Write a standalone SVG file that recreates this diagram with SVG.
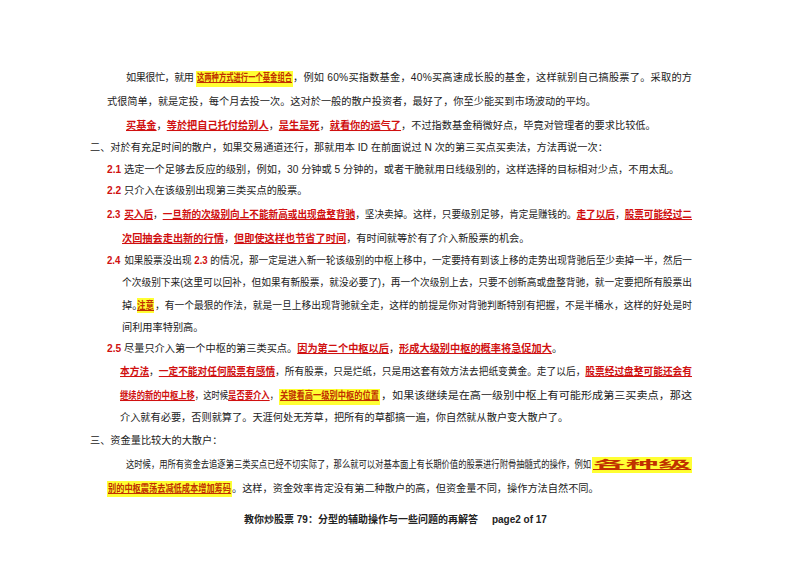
<svg xmlns="http://www.w3.org/2000/svg" width="800" height="566" viewBox="0 0 800 566">
<style>
text{font-family:"Liberation Sans","Noto Sans CJK SC",sans-serif;font-size:10.2px;fill:#222}
.r{fill:#d01010;font-weight:bold;text-decoration:underline}
.o{fill:#c03000;font-weight:bold;text-decoration:underline}
.n{fill:#d01010;font-weight:bold}
.h{fill:#ffff33}
</style>
<rect width="800" height="566" fill="#fff"/>
<rect class="h" x="196" y="71" width="97" height="16"/>
<rect class="h" x="137" y="298" width="17" height="15"/>
<rect class="h" x="279" y="389" width="101" height="16"/>
<rect class="h" x="592" y="457" width="100" height="16"/>
<rect class="h" x="107" y="481" width="125" height="16"/>
<g id="p1">
<text x="126" y="81" textLength="68" lengthAdjust="spacing">如果很忙，就用</text>
<text x="197" y="81" textLength="95" lengthAdjust="spacingAndGlyphs" class="o">这两种方式进行一个基金组合</text>
<text x="293" y="81" textLength="399" lengthAdjust="spacing">，例如 60%买指数基金，40%买高速成长股的基金，这样就别自己搞股票了。采取的方</text>
<text x="107" y="105">式很简单，就是定投，每个月去投一次。这对於一般的散户投资者，最好了，你至少能买到市场波动的平均。</text>
<text x="126" y="129"><tspan class="r">买基金</tspan>，<tspan class="r">等於把自己托付给别人</tspan>，<tspan class="r">是生是死</tspan>，<tspan class="r">就看你的运气了</tspan>，不过指数基金稍微好点，毕竟对管理者的要求比较低。</text>
</g>
<g id="p2">
<text x="90" y="151">二、对於有充足时间的散户，如果交易通道还行，那就用本 ID 在前面说过 N 次的第三买点买卖法，方法再说一次：</text>
<text x="107" y="173"><tspan class="n">2.1</tspan> 选定一个足够去反应的级别，例如，30 分钟或 5 分钟的，或者干脆就用日线级别的，这样选择的目标相对少点，不用太乱。</text>
<text x="107" y="194"><tspan class="n">2.2</tspan> 只介入在该级别出现第三类买点的股票。</text>
<text x="107" y="218" textLength="585" lengthAdjust="spacingAndGlyphs"><tspan class="n">2.3</tspan><tspan dx="4" class="r">买入后</tspan>，<tspan class="r">一旦新的次级别向上不能新高或出现盘整背驰</tspan>，坚决卖掉。这样，只要级别足够，肯定是赚钱的。<tspan class="r">走了以后</tspan>，<tspan class="r">股票可能经过二</tspan></text>
<text x="122" y="242"><tspan class="r">次回抽会走出新的行情</tspan>，<tspan class="r">但即使这样也节省了时间</tspan>，有时间就等於有了介入新股票的机会。</text>
<text x="107" y="264" textLength="585" lengthAdjust="spacingAndGlyphs"><tspan class="n">2.4</tspan><tspan dx="4">如果股票没出现 </tspan><tspan class="n">2.3</tspan> 的情况，那一定是进入新一轮该级别的中枢上移中，一定要持有到该上移的走势出现背驰后至少卖掉一半，然后一</text>
<text x="122" y="286" textLength="570" lengthAdjust="spacingAndGlyphs">个次级别下来(这里可以回补，但如果有新股票，就没必要了)，再一个次级别上去，只要不创新高或盘整背驰，就一定要把所有股票出</text>
<text x="122" y="309">掉。</text>
<text x="137" y="309" textLength="17" lengthAdjust="spacingAndGlyphs" class="o">注意</text>
<text x="155" y="309" textLength="537" lengthAdjust="spacingAndGlyphs">，有一个最狠的作法，就是一旦上移出现背驰就全走，这样的前提是你对背驰判断特别有把握，不是半桶水，这样的好处是时</text>
<text x="122" y="331">间利用率特别高。</text>
<text x="107" y="352"><tspan class="n">2.5</tspan> 尽量只介入第一个中枢的第三类买点。<tspan class="r">因为第二个中枢以后</tspan>，<tspan class="r">形成大级别中枢的概率将急促加大</tspan>。</text>
<text x="120" y="375" textLength="572" lengthAdjust="spacingAndGlyphs"><tspan class="r">本方法</tspan>，<tspan class="r">一定不能对任何股票有感情</tspan>，所有股票，只是烂纸，只是用这套有效方法去把纸变黄金。走了以后，<tspan class="r">股票经过盘整可能还会有</tspan></text>
<text x="120" y="399" textLength="158" lengthAdjust="spacingAndGlyphs"><tspan class="r">继续的新的中枢上移</tspan>，这时候<tspan class="r">是否要介入</tspan>，</text>
<text x="280" y="399" textLength="99" lengthAdjust="spacingAndGlyphs" class="o">关键看高一级别中枢的位置</text>
<text x="381" y="399" textLength="311" lengthAdjust="spacingAndGlyphs">，如果该继续是在高一级别中枢上有可能形成第三买卖点，那这</text>
<text x="120" y="421">介入就有必要，否则就算了。天涯何处无芳草，把所有的草都搞一遍，你自然就从散户变大散户了。</text>
</g>
<g id="p3">
<text x="90" y="444">三、资金量比较大的大散户：</text>
<text x="126" y="468" textLength="465" lengthAdjust="spacingAndGlyphs">这时候，用所有资金去追逐第三类买点已经不切实际了，那么就可以对基本面上有长期价值的股票进行附骨抽髓式的操作，例如</text>
<text x="593" y="468" textLength="98" lengthAdjust="spacingAndGlyphs" class="o">各种级</text>
<text x="108" y="492" textLength="123" lengthAdjust="spacingAndGlyphs" class="o">别的中枢震荡去减低成本增加筹码</text>
<text x="232" y="492">。这样，资金效率肯定没有第二种散户的高，但资金量不同，操作方法自然不同。</text>
</g>
<text x="244" y="523" style="font-weight:bold;font-size:10px">教你炒股票 79：分型的辅助操作与一些问题的再解答<tspan dx="14">page2 of 17</tspan></text>
</svg>
